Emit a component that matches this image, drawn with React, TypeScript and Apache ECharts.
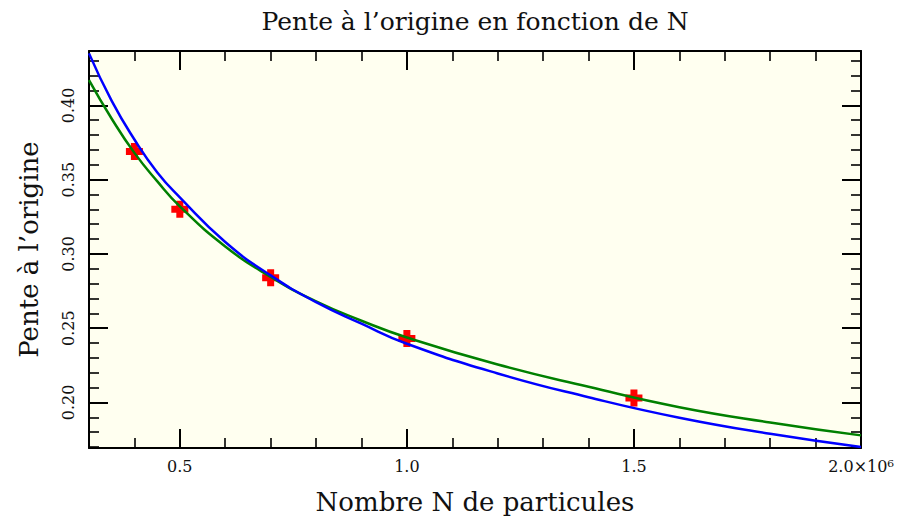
import React, { useEffect, useRef } from 'react';
import * as echarts from 'echarts';

// Measured points (x in units of 10^6 particles)
const pointsX = [0.4, 0.5, 0.7, 1.0, 1.5];
const pointsY = [0.369, 0.330, 0.284, 0.243, 0.203];

// Fitted curves
const curveX = [0.3, 0.35, 0.4, 0.45, 0.5, 0.6, 0.7, 0.8, 0.9, 1.0, 1.2, 1.4, 1.6, 1.8, 2.0];
const blueY = [0.435, 0.403, 0.377, 0.355, 0.338, 0.308, 0.2855, 0.2675, 0.253, 0.2395, 0.2195, 0.2035, 0.1897, 0.1789, 0.170];
const greenY = [0.417, 0.391, 0.368, 0.349, 0.332, 0.305, 0.2845, 0.268, 0.255, 0.2437, 0.2255, 0.2105, 0.1968, 0.1865, 0.1778];

const titleText = 'Pente à l’origine en fonction de N';
const xName = 'Nombre N de particules';
const yName = 'Pente à l’origine';

const X_MIN = 0.3;
const X_MAX = 2.0;
const Y_MIN = 0.1693;
const Y_MAX = 0.4366;

const FONT = 'DejaVu Serif';

const crossPath = 'path://M5,0H12V5H17V12H12V17H5V12H0V5H5Z';

export default function App() {
  const ref = useRef<HTMLDivElement>(null);
  useEffect(() => {
    if (!ref.current) return;
    const chart = echarts.init(ref.current, undefined, { renderer: 'svg' });

    const blueData = curveX.map((x, i) => [x, blueY[i]]);
    const greenData = curveX.map((x, i) => [x, greenY[i]]);
    const pts = pointsX.map((x, i) => [x, pointsY[i]]);

    const lineStyle = { color: '#000', width: 2 };
    const majorX = (pos: 'bottom' | 'top', labels: boolean) => ({
      type: 'value',
      position: pos,
      min: X_MIN,
      max: X_MAX,
      minInterval: 0.5,
      maxInterval: 0.5,
      axisLine: { show: true, onZero: false, lineStyle },
      axisTick: { show: true, inside: true, length: 19, lineStyle: { color: '#000', width: 2 } },
      axisLabel: labels
        ? {
            show: true,
            margin: 10,
            fontFamily: FONT,
            fontSize: 16,
            color: '#111',
            showMinLabel: false,
            formatter: (v: number) => (Math.abs(v - 2) < 1e-9 ? '2.0×10⁶' : v.toFixed(1)),
          }
        : { show: false },
      splitLine: { show: false },
      name: labels ? xName : '',
      nameLocation: 'middle',
      nameGap: 41,
      nameTextStyle: { fontFamily: FONT, fontSize: 26, color: '#111' },
    });
    const minorX = (pos: 'bottom' | 'top') => ({
      type: 'value',
      position: pos,
      min: X_MIN,
      max: X_MAX,
      interval: 0.1,
      axisLine: { show: false, onZero: false },
      axisTick: { show: true, inside: true, length: 10, lineStyle: { color: '#000', width: 1.6 } },
      axisLabel: { show: false },
      splitLine: { show: false },
    });
    const majorY = (pos: 'left' | 'right', labels: boolean) => ({
      type: 'value',
      position: pos,
      min: Y_MIN,
      max: Y_MAX,
      minInterval: 0.05,
      maxInterval: 0.05,
      axisLine: { show: true, onZero: false, lineStyle },
      axisTick: { show: true, inside: true, length: 19, lineStyle: { color: '#000', width: 2 } },
      axisLabel: labels
        ? {
            show: true,
            rotate: 90,
            margin: 13,
            fontFamily: FONT,
            fontSize: 16,
            color: '#111',
            showMinLabel: false,
            showMaxLabel: false,
            formatter: (v: number) => v.toFixed(2),
          }
        : { show: false },
      splitLine: { show: false },
      name: labels ? yName : '',
      nameLocation: 'middle',
      nameGap: 47,
      nameTextStyle: { fontFamily: FONT, fontSize: 26, color: '#111' },
    });
    const minorY = (pos: 'left' | 'right') => ({
      type: 'value',
      position: pos,
      min: Y_MIN,
      max: Y_MAX,
      minInterval: 0.01,
      maxInterval: 0.01,
      axisLine: { show: false, onZero: false },
      axisTick: { show: true, inside: true, length: 10, lineStyle: { color: '#000', width: 1.6 } },
      axisLabel: { show: false },
      splitLine: { show: false },
    });

    chart.setOption({
      animation: false,
      backgroundColor: '#ffffff',
      grid: {
        left: 89,
        right: 39,
        top: 51,
        bottom: 72,
        show: true,
        backgroundColor: '#FFFFF0',
        borderWidth: 0,
      },
      graphic: [
        {
          type: 'text',
          x: 475,
          y: 21,
          style: {
            text: titleText,
            fontFamily: FONT,
            fontSize: 25,
            fill: '#111',
            textAlign: 'center',
            textVerticalAlign: 'middle',
          },
        },
      ],
      xAxis: [majorX('bottom', true), minorX('bottom'), majorX('top', false), minorX('top')],
      yAxis: [majorY('left', true), minorY('left'), majorY('right', false), minorY('right')],
      series: [
        {
          type: 'scatter',
          data: pts,
          symbol: crossPath,
          symbolSize: 17,
          itemStyle: { color: '#FF0000', opacity: 1 },
          z: 2,
        },
        {
          type: 'line',
          data: greenData,
          smooth: true,
          showSymbol: false,
          symbol: 'none',
          clip: true,
          lineStyle: { color: '#008000', width: 2.5 },
          z: 3,
        },
        {
          type: 'line',
          data: blueData,
          smooth: true,
          showSymbol: false,
          symbol: 'none',
          clip: true,
          lineStyle: { color: '#0000FF', width: 2.5 },
          z: 4,
        },
      ],
    });
    return () => chart.dispose();
  }, []);
  return (
    <div
      ref={ref}
      style={{ position: 'absolute', left: 0, top: 0, width: 900, height: 520 }}
    />
  );
}
